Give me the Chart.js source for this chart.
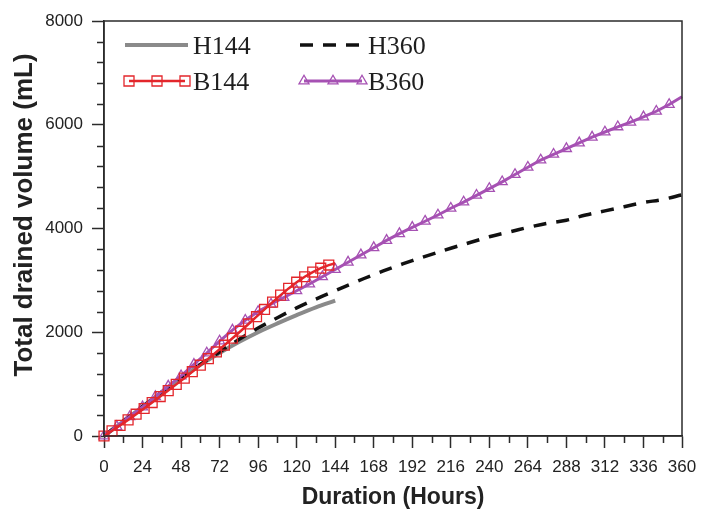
<!DOCTYPE html>
<html>
<head>
<meta charset="utf-8">
<title>Total drained volume</title>
<script src="https://cdn.jsdelivr.net/npm/chart.js@4.4.1/dist/chart.umd.min.js"></script>
<style>
  html, body { margin: 0; padding: 0; background: #fff; }
  #wrap { width: 713px; height: 513px; }
</style>
</head>
<body>
<div id="wrap"><canvas id="drainChart" width="713" height="513"></canvas></div>
<script>
// Drained volume over time for the four test columns
const h144Hours = [0, 12, 24, 36, 48, 60, 72, 84, 96, 108, 120, 132, 144];
const h144Volume = [0, 280, 560, 840, 1110, 1370, 1600, 1810, 2000, 2170, 2330, 2480, 2610];

const h360Hours = [0, 12, 24, 36, 48, 60, 72, 84, 96, 108, 120, 132, 144, 156, 168, 180,
  192, 204, 216, 228, 240, 252, 264, 276, 288, 300, 312, 324, 336, 348, 360];
const h360Volume = [0, 290, 570, 850, 1120, 1380, 1620, 1860, 2080, 2280, 2470, 2640, 2800, 2960, 3110, 3250,
  3380, 3500, 3620, 3730, 3840, 3930, 4020, 4100, 4160, 4260, 4340, 4420, 4500, 4560, 4650];

const b144Hours = [0, 5, 10, 15, 20, 25, 30, 35, 40, 45, 50, 55, 60, 65, 70, 75, 80, 85, 90, 95,
  100, 105, 110, 115, 120, 125, 130, 135, 140, 144];
const b144Volume = [0, 100, 205, 310, 420, 530, 645, 760, 875, 995, 1115, 1240, 1365, 1490, 1620, 1750, 1885, 2020, 2160, 2300,
  2440, 2580, 2715, 2845, 2965, 3070, 3160, 3235, 3295, 3330];

const b360Hours = [0, 8, 16, 24, 32, 40, 48, 56, 64, 72, 80, 88, 96, 104, 112, 120, 128, 136, 144, 152,
  160, 168, 176, 184, 192, 200, 208, 216, 224, 232, 240, 248, 256, 264, 272, 280, 288, 296, 304, 312,
  320, 328, 336, 344, 352, 360];
const b360Volume = [0, 180, 370, 560, 760, 960, 1160, 1380, 1600, 1830, 2040, 2230, 2400, 2540, 2670, 2800, 2930, 3070, 3210, 3350,
  3490, 3630, 3770, 3900, 4020, 4140, 4260, 4390, 4510, 4640, 4770, 4900, 5040, 5180, 5320, 5430, 5540, 5650, 5760, 5860,
  5960, 6050, 6150, 6260, 6390, 6540];

const xMajorTicks = [0, 24, 48, 72, 96, 120, 144, 168, 192, 216, 240, 264, 288, 312, 336, 360];
const yMajorTicks = [0, 2000, 4000, 6000, 8000];
const xMinorStep = 12;
const yMinorStep = 400;

const axisColor = '#2b2b2b';
const textColor = '#222';
const grey = '#8a8a8a';
const red = '#e3262b';
const purple = '#a651b3';
const sansFont = '"Liberation Sans", Arial, sans-serif';

const pairs = (xs, ys) => xs.map((h, i) => ({ x: h, y: ys[i] }));

const series = [
  { label: 'H144', data: pairs(h144Hours, h144Volume), color: grey, width: 4, dash: [], marker: null },
  { label: 'H360', data: pairs(h360Hours, h360Volume), color: '#111', width: 3.5, dash: [13, 10], marker: null },
  { label: 'B144', data: pairs(b144Hours, b144Volume), color: red, width: 2.5, dash: [], marker: 'rect' },
  { label: 'B360', data: pairs(b360Hours, b360Volume), color: purple, width: 3, dash: [], marker: 'triangle' }
];
const drawOrder = { H144: 3, H360: 2, B144: 0, B360: 1 };
const markerRadius = { rect: 7, triangle: 5.8 };

// the closing point of a marked series carries no marker
const datasets = series.map(s => ({
  label: s.label,
  data: s.data,
  order: drawOrder[s.label],
  borderColor: s.color,
  borderWidth: s.width,
  borderDash: s.dash,
  tension: s.marker ? 0 : 0.35,
  fill: false,
  clip: false,
  pointStyle: s.marker || 'circle',
  pointRadius: s.marker ? (ctx => (ctx.index === s.data.length - 1 ? 0 : markerRadius[s.marker])) : 0,
  pointBorderColor: s.color,
  pointBorderWidth: 1.3,
  pointBackgroundColor: 'rgba(0,0,0,0)',
  pointHoverRadius: 0
}));

// Box around the plot, the unlabelled minor ticks and the rotated y title
const frameTicks = {
  id: 'frameTicks',
  afterDraw(chart) {
    const { ctx, chartArea: a, scales: { x, y } } = chart;
    ctx.save();
    ctx.strokeStyle = axisColor;
    ctx.lineWidth = 1.5;
    ctx.strokeRect(a.left, a.top, a.right - a.left, a.bottom - a.top);
    ctx.beginPath();
    for (let v = xMinorStep; v < x.max; v += xMinorStep) {
      if (xMajorTicks.includes(v)) continue;
      const px = Math.round(x.getPixelForValue(v)) + 0.5;
      ctx.moveTo(px, a.bottom);
      ctx.lineTo(px, a.bottom + 7);
    }
    for (let v = yMinorStep; v < y.max; v += yMinorStep) {
      if (yMajorTicks.includes(v)) continue;
      const py = Math.round(y.getPixelForValue(v)) + 0.5;
      ctx.moveTo(a.left, py);
      ctx.lineTo(a.left - 7, py);
    }
    ctx.stroke();

    ctx.translate(25, 215);
    ctx.rotate(-Math.PI / 2);
    ctx.fillStyle = textColor;
    ctx.font = 'bold 26px ' + sansFont;
    ctx.textAlign = 'center';
    ctx.textBaseline = 'middle';
    ctx.fillText('Total drained volume (mL)', 0, 0);
    ctx.restore();
  }
};

// Two-column legend inside the plot, drawn with each series' own style
const insideLegend = {
  id: 'insideLegend',
  afterDraw(chart) {
    const ctx = chart.ctx;
    const slots = [
      { x0: 125, x1: 188, y: 45, tx: 193 },
      { x0: 300, x1: 363, y: 45, tx: 368 },
      { x0: 129, x1: 185, y: 81, tx: 193 },
      { x0: 304, x1: 362, y: 81, tx: 368 }
    ];
    series.forEach((s, i) => {
      const p = slots[i];
      ctx.save();
      ctx.strokeStyle = s.color;
      ctx.lineWidth = s.width;
      ctx.setLineDash(s.dash);
      ctx.beginPath();
      ctx.moveTo(p.x0, p.y);
      ctx.lineTo(p.x1, p.y);
      ctx.stroke();
      ctx.setLineDash([]);
      if (s.marker) {
        ctx.lineWidth = 1.3;
        [p.x0, (p.x0 + p.x1) / 2, p.x1].forEach(mx => {
          ctx.beginPath();
          if (s.marker === 'rect') {
            ctx.rect(mx - 5, p.y - 5, 10, 10);
          } else {
            const r = markerRadius.triangle;
            ctx.moveTo(mx, p.y - r);
            ctx.lineTo(mx + r * 0.866, p.y + r / 2);
            ctx.lineTo(mx - r * 0.866, p.y + r / 2);
            ctx.closePath();
          }
          ctx.stroke();
        });
      }
      ctx.fillStyle = '#1e1e1e';
      ctx.font = '26px "Liberation Serif", "Times New Roman", serif';
      ctx.textBaseline = 'alphabetic';
      ctx.fillText(s.label, p.tx, p.y + 9);
      ctx.restore();
    });
  }
};

new Chart(document.getElementById('drainChart'), {
  type: 'line',
  data: { datasets },
  plugins: [frameTicks, insideLegend],
  options: {
    responsive: false,
    animation: false,
    events: [],
    layout: { padding: { top: 21, right: 31, left: 0, bottom: 0 } },
    plugins: { legend: { display: false }, tooltip: { enabled: false } },
    scales: {
      x: {
        type: 'linear',
        min: 0,
        max: 360,
        afterFit: scale => { scale.height = 77; },
        afterBuildTicks: scale => { scale.ticks = xMajorTicks.map(v => ({ value: v })); },
        ticks: {
          autoSkip: false,
          maxRotation: 0,
          padding: 9,
          color: textColor,
          callback: v => String(v),
          font: { family: sansFont, size: 17 }
        },
        grid: { drawOnChartArea: false, tickLength: 12, tickWidth: 1.5, tickColor: axisColor },
        border: { display: true, color: axisColor, width: 1.5 },
        title: {
          display: true,
          text: 'Duration (Hours)',
          color: textColor,
          padding: { top: 0, bottom: 2 },
          font: { family: sansFont, size: 23, weight: 'bold' }
        }
      },
      y: {
        type: 'linear',
        min: 0,
        max: 8000,
        afterFit: scale => { scale.width = 104; },
        afterBuildTicks: scale => { scale.ticks = yMajorTicks.map(v => ({ value: v })); },
        ticks: {
          padding: 9,
          color: textColor,
          callback: v => String(v),
          font: { family: sansFont, size: 17 }
        },
        grid: { drawOnChartArea: false, tickLength: 12, tickWidth: 1.5, tickColor: axisColor },
        border: { display: true, color: axisColor, width: 1.5 }
      }
    }
  }
});
</script>
</body>
</html>
